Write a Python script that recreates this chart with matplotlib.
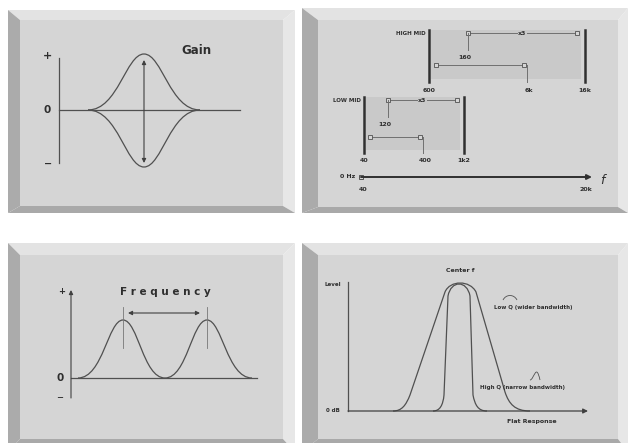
import matplotlib
matplotlib.use("Agg")
import matplotlib.pyplot as plt
from matplotlib.path import Path
from matplotlib.patches import PathPatch, Polygon, Rectangle

# panels: outer box and inner face (x0, y0, x1, y1) in pixels
panel_outer = [(8, 10, 295, 213), (302, 8, 628, 213), (8, 243, 295, 452), (302, 243, 628, 452)]
panel_inner = [(20, 20, 283, 206), (318, 20, 618, 207), (20, 255, 283, 439), (318, 255, 618, 439)]

# gain panel: bezier control points of boost / cut curves
gain_x = [88, 118, 126, 144, 162, 170, 200]
gain_boost = [110, 110, 54, 54, 54, 110, 110]
gain_cut = [110, 110, 167, 167, 167, 110, 110]

# frequency panel: two bells
freq_x = [78, 103, 108, 123, 138, 143, 165, 187, 192, 207, 222, 227, 252]
freq_y = [378, 378, 320, 320, 320, 378, 378, 378, 320, 320, 320, 378, 378]

# Q panel
wideq_x = [393, 402, 406, 410, 445, 450, 470, 476, 505, 509, 515, 530]
wideq_y = [411, 411, 405, 395, 292, 280, 280, 292, 392, 404, 411, 411]
wideq_c = "MCCCLCCCLCCC"
narq_x = [433, 440, 443, 444, 448, 451, 467, 470, 473, 475, 478, 487]
narq_y = [411, 411, 405, 395, 296, 280, 280, 296, 395, 405, 411, 411]

# parametric band ranges
bands = ["HIGH MID", "LOW MID"]
band_left = [429, 364]
band_right = [585, 464]
band_top = [30, 97]
band_bot = [82, 153]
band_lo_lab = ["600", "40"]
band_hi_lab = ["16k", "1k2"]
sweep1_x = [(468, 577), (388, 457)]
sweep1_lab = ["x3", "x3"]
sweep1_min = ["160", "120"]
sweep2_x = [(436, 524), (370, 420)]
sweep2_lab = ["6k", "400"]

C = {"M": Path.MOVETO, "L": Path.LINETO, "C": Path.CURVE4}
TXT = "#2e2e2e"

fig = plt.figure(figsize=(6.28, 4.43), dpi=100)
ax = fig.add_axes([0, 0, 1, 1])
ax.set_xlim(0, 628)
ax.set_ylim(443, 0)
ax.axis("off")

for (ox0, oy0, ox1, oy1), (ix0, iy0, ix1, iy1) in zip(panel_outer, panel_inner):
    ax.add_patch(Polygon([(ox0, oy0), (ox1, oy0), (ix1, iy0), (ix0, iy0)], color="#e3e3e3", lw=0))
    ax.add_patch(Polygon([(ox1, oy0), (ox1, oy1), (ix1, iy1), (ix1, iy0)], color="#e7e7e7", lw=0))
    ax.add_patch(Polygon([(ox0, oy0), (ix0, iy0), (ix0, iy1), (ox0, oy1)], color="#ababab", lw=0))
    ax.add_patch(Polygon([(ox0, oy1), (ix0, iy1), (ix1, iy1), (ox1, oy1)], color="#a9a9a9", lw=0))
    ax.add_patch(Rectangle((ix0, iy0), ix1 - ix0, iy1 - iy0, color="#d5d5d5", lw=0))


def curve(xs, ys, codes, lw=0.9, col="#505050"):
    p = Path(list(zip(xs, ys)), [C[c] for c in codes])
    ax.add_patch(PathPatch(p, fill=False, lw=lw, edgecolor=col))


def arrow(x0, y0, x1, y1, style="-|>", lw=0.8, ms=6, col="#404040"):
    ax.annotate("", xy=(x1, y1), xytext=(x0, y0),
                arrowprops=dict(arrowstyle=style, lw=lw, color=col, mutation_scale=ms,
                                shrinkA=0, shrinkB=0))


def small(x, y, s, ha="center", size=4.5):
    ax.text(x, y, s, fontsize=size, fontweight="bold", ha=ha, va="center", color=TXT)


# ---- Gain
ax.plot([59, 59], [58, 163], color="#505050", lw=0.9)
ax.plot([59, 240], [110, 110], color="#505050", lw=0.9)
curve(gain_x, gain_boost, "MCCCCCC")
curve(gain_x, gain_cut, "MCCCCCC")
arrow(144, 60, 144, 163, "<|-|>")
ax.text(48, 56, "+", fontsize=8, fontweight="bold", ha="center", va="center", color=TXT)
ax.text(47, 110, "0", fontsize=7.5, fontweight="bold", ha="center", va="center", color=TXT)
ax.text(48, 164, "\u2212", fontsize=7, fontweight="bold", ha="center", va="center", color=TXT)
ax.text(196, 50, "Gain", fontsize=8.5, fontweight="bold", ha="center", va="center", color=TXT)

# ---- Frequency
arrow(71, 398, 71, 290)
ax.plot([71, 257], [378, 378], color="#505050", lw=0.9)
curve(freq_x, freq_y, "MCCCCCCCCCCCC")
for px in (123, 207):
    ax.plot([px, px], [307, 348], color="#777777", lw=0.6)
arrow(128, 313, 200, 313, "<|-|>")
ax.text(62, 292, "+", fontsize=6, fontweight="bold", ha="center", va="center", color=TXT)
ax.text(60, 378, "0", fontsize=7.5, fontweight="bold", ha="center", va="center", color=TXT)
ax.text(60, 398, "\u2212", fontsize=6, fontweight="bold", ha="center", va="center", color=TXT)
ax.text(165, 292, "F r e q u e n c y", fontsize=7.5, fontweight="bold", ha="center", va="center",
        color=TXT)

# ---- Parametric ranges
for i in range(2):
    l, r, t, b = band_left[i], band_right[i], band_top[i], band_bot[i]
    ax.add_patch(Rectangle((l + 2, t), r - l - 6, b - t - 3, color="#c9c9c9", lw=0))
    ax.plot([l, l], [t, b], color="#303030", lw=1.8)
    ax.plot([r, r], [t, b], color="#303030", lw=1.8)
    small(l - 3, t + 3, bands[i], ha="right", size=4)
    small(l, b + 8, band_lo_lab[i])
    small(r, b + 8, band_hi_lab[i])
    # upper sweep
    sx0, sx1 = sweep1_x[i]
    sy = t + 3
    ax.plot([sx0, sx1], [sy, sy], color="#707070", lw=0.7)
    ax.plot([sx0, sx1], [sy, sy], ls="none", marker="s", ms=3.5, mfc="#d5d5d5", mec="#505050", mew=0.6)
    ax.plot([sx0, sx0], [sy, sy + 17], color="#707070", lw=0.7)
    ax.text((sx0 + sx1) / 2, sy, sweep1_lab[i], fontsize=4.5, fontweight="bold", ha="center",
            va="center", color=TXT, bbox=dict(fc="#c9c9c9", ec="none", pad=0.5))
    small(sx0 - 3, sy + 24, sweep1_min[i])
    # lower sweep
    lx0, lx1 = sweep2_x[i]
    ly = t + 35 if i == 0 else t + 40
    ax.plot([lx0, lx1], [ly, ly], color="#707070", lw=0.7)
    ax.plot([lx0, lx1], [ly, ly], ls="none", marker="s", ms=3.5, mfc="#d5d5d5", mec="#505050", mew=0.6)
    ax.plot([lx1 + 3, lx1 + 3], [ly, b], color="#707070", lw=0.7)
    small(lx1 + 5, b + 8, sweep2_lab[i])

arrow(361, 177, 592, 177, "-|>", lw=1.4, ms=7, col="#303030")
ax.plot([361], [177], marker="s", ms=3.5, mfc="#d5d5d5", mec="#404040", mew=0.6)
small(355, 177, "0 Hz", ha="right")
small(363, 189, "40")
small(586, 189, "20k")
ax.text(602, 180, "f", fontsize=9, style="italic", ha="center", va="center", color=TXT)

# ---- Q
ax.plot([348, 348], [282, 411], color="#505050", lw=0.9)
arrow(348, 411, 588, 411, "-|>", lw=0.9, ms=7)
curve(wideq_x, wideq_y, wideq_c)
curve(narq_x, narq_y, wideq_c)
small(333, 285, "Level", size=4)
small(333, 411, "0 dB", size=4)
small(460, 270, "Center f")
small(533, 308, "Low Q (wider bandwidth)", size=4)
small(523, 388, "High Q (narrow bandwidth)", size=4)
small(532, 421, "Flat Response")
curve([503, 506, 514, 517], [300, 294, 294, 300], "MCCC", lw=0.6)
curve([530, 534, 536, 540], [380, 380, 362, 380], "MCCC", lw=0.6)

fig.savefig("out.png", dpi=100)
